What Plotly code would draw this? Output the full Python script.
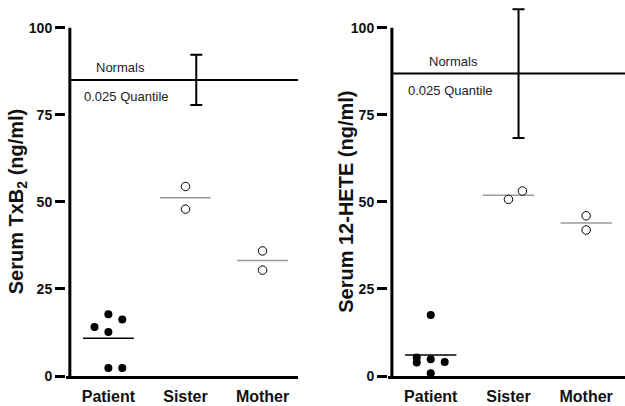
import numpy as np
import plotly.graph_objects as go

# ---------------- data ----------------
groups = ["Patient", "Sister", "Mother"]

# Serum TxB2 (ng/ml)
txb2_patient = [14.1, 17.7, 16.2, 12.6, 2.3, 2.3]
txb2_sister = [54.4, 47.9]
txb2_mother = [35.9, 30.4]
txb2_normal_quantile = 85.0
txb2_normal_err = 7.2

# Serum 12-HETE (ng/ml)
hete_patient = [17.5, 5.3, 3.9, 4.8, 4.0, 0.8]
hete_sister = [50.7, 53.1]
hete_mother = [46.0, 41.9]
hete_normal_quantile = 86.8
hete_normal_err = 18.5

y_tick_vals = [0, 25, 50, 75, 100]
y_axis_max = 100
y_titles = ["Serum TxB<sub>2</sub> (ng/ml)", "Serum 12-HETE (ng/ml)"]

# ---------------- layout helpers (positions / styles) ----------------
txb2_jitter = [[-0.18, 0, 0.18, 0, 0, 0.18], [0, 0], [0, 0]]
hete_jitter = [[0, -0.18, -0.18, 0, 0.18, 0], [0, 0.18], [0, 0]]
errbar_x = [1.14, 1.13]
mean_half = 0.33
Y_TOP = 106.5  # headroom so the 12-HETE error bar is not clipped

FONT = "Liberation Sans, Arial, Helvetica, sans-serif"
W, H = 625, 406
ML, MR, MT, MB = 0, 0, 5.4, 30.3
X_DOMAINS = [(66, 298), (388, 625)]
X_RANGES = [(-0.55, 2.46), (-0.55, 2.5)]
AXIS_X = -0.5
TITLE_X = [17.5, 346]
Y_DOM_TOP = y_axis_max / Y_TOP

def px(x):
    return x / W

fig = go.Figure()

panels = [
    dict(xa="x", ya="y", ya_err="y3", vals=[txb2_patient, txb2_sister, txb2_mother],
         jit=txb2_jitter, nq=txb2_normal_quantile, ne=txb2_normal_err, ebx=errbar_x[0],
         xr=X_RANGES[0], title=y_titles[0], tx=TITLE_X[0],
         normals_x=0.16, quant_x=0.23),
    dict(xa="x2", ya="y2", ya_err="y4", vals=[hete_patient, hete_sister, hete_mother],
         jit=hete_jitter, nq=hete_normal_quantile, ne=hete_normal_err, ebx=errbar_x[1],
         xr=X_RANGES[1], title=y_titles[1], tx=TITLE_X[1],
         normals_x=0.29, quant_x=0.25),
]

annotations = []
for p in panels:
    # vertical axis line as an error bar spanning 0..100 (error bars render reliably)
    fig.add_trace(go.Scatter(
        x=[AXIS_X], y=[y_axis_max / 2], mode="markers",
        xaxis=p["xa"], yaxis=p["ya_err"], showlegend=False, hoverinfo="skip",
        marker=dict(size=1, color="rgba(0,0,0,0)"),
        error_y=dict(type="constant", value=y_axis_max / 2, visible=True,
                     color="black", thickness=3, width=0),
    ))
    for gi, (vals, jit) in enumerate(zip(p["vals"], p["jit"])):
        filled = gi == 0
        fig.add_trace(go.Scatter(
            x=[gi + j for j in jit], y=vals, mode="markers",
            xaxis=p["xa"], yaxis=p["ya_err"], showlegend=False,
            marker=dict(size=8 if filled else 8.5,
                        color="black" if filled else "white",
                        line=dict(color="black", width=0 if filled else 1)),
        ))
        m = float(np.mean(vals))
        fig.add_trace(go.Scatter(
            x=[gi - mean_half, gi + mean_half], y=[m, m], mode="lines",
            xaxis=p["xa"], yaxis=p["ya"], showlegend=False,
            line=dict(color="black" if filled else "#9a9a9a", width=1.5),
        ))
    # error bar of normals (on a taller, hidden y axis with the same scale)
    fig.add_trace(go.Scatter(
        x=[p["ebx"]], y=[p["nq"]], mode="markers",
        xaxis=p["xa"], yaxis=p["ya_err"], showlegend=False,
        marker=dict(size=1, color="rgba(0,0,0,0)"),
        error_y=dict(type="data", array=[p["ne"]], visible=True,
                     color="black", thickness=2, width=6),
    ))
    # normals quantile line
    fig.add_trace(go.Scatter(
        x=[AXIS_X, p["xr"][1]], y=[p["nq"], p["nq"]],
        mode="lines", xaxis=p["xa"], yaxis=p["ya"], showlegend=False,
        line=dict(color="black", width=2),
    ))
    annotations.append(dict(x=p["normals_x"], y=p["nq"], xref=p["xa"], yref=p["ya"],
                            text="Normals", showarrow=False, yshift=12,
                            font=dict(family=FONT, size=13, color="#222")))
    annotations.append(dict(x=p["quant_x"], y=p["nq"], xref=p["xa"], yref=p["ya"],
                            text="0.025 Quantile", showarrow=False, yshift=-17,
                            font=dict(family=FONT, size=13, color="#222")))
    annotations.append(dict(x=px(p["tx"]), y=Y_DOM_TOP / 2,
                            xref="paper", yref="paper", text=p["title"],
                            textangle=-90, showarrow=False,
                            xanchor="center", yanchor="middle",
                            font=dict(family=FONT, size=20, color="#111", weight="bold")))

axis_common_y = dict(range=[0, y_axis_max], domain=[0, Y_DOM_TOP], tickvals=y_tick_vals,
                     ticks="outside", ticklen=10, tickwidth=2.5, tickcolor="black",
                     showline=False, showgrid=False, zeroline=False,
                     tickfont=dict(family=FONT, size=14, color="#111", weight="bold"),
                     automargin=False)
axis_err_y = dict(range=[0, Y_TOP], domain=[0, 1], visible=False, showgrid=False,
                  zeroline=False, automargin=False)
axis_common_x = dict(tickvals=[0, 1, 2], ticktext=groups, ticks="", showline=True,
                     linewidth=3, linecolor="black", showgrid=False, zeroline=False,
                     ticklabelstandoff=4,
                     tickfont=dict(family=FONT, size=16, color="#111", weight="bold"),
                     automargin=False)

fig.update_layout(
    width=W, height=H,
    margin=dict(l=ML, r=MR, t=MT, b=MB),
    paper_bgcolor="white", plot_bgcolor="rgba(0,0,0,0)",
    xaxis=dict(domain=[px(X_DOMAINS[0][0]), px(X_DOMAINS[0][1])], range=list(X_RANGES[0]),
               anchor="y", **axis_common_x),
    yaxis=dict(anchor="x", **axis_common_y),
    xaxis2=dict(domain=[px(X_DOMAINS[1][0]), px(X_DOMAINS[1][1])], range=list(X_RANGES[1]),
                anchor="y2", **axis_common_x),
    yaxis2=dict(anchor="x2", **axis_common_y),
    yaxis3=dict(anchor="x", **axis_err_y),
    yaxis4=dict(anchor="x2", **axis_err_y),
    annotations=annotations,
)

fig.write_html("out.html", config={"displayModeBar": False},
               post_script="document.body.style.margin='0';")
